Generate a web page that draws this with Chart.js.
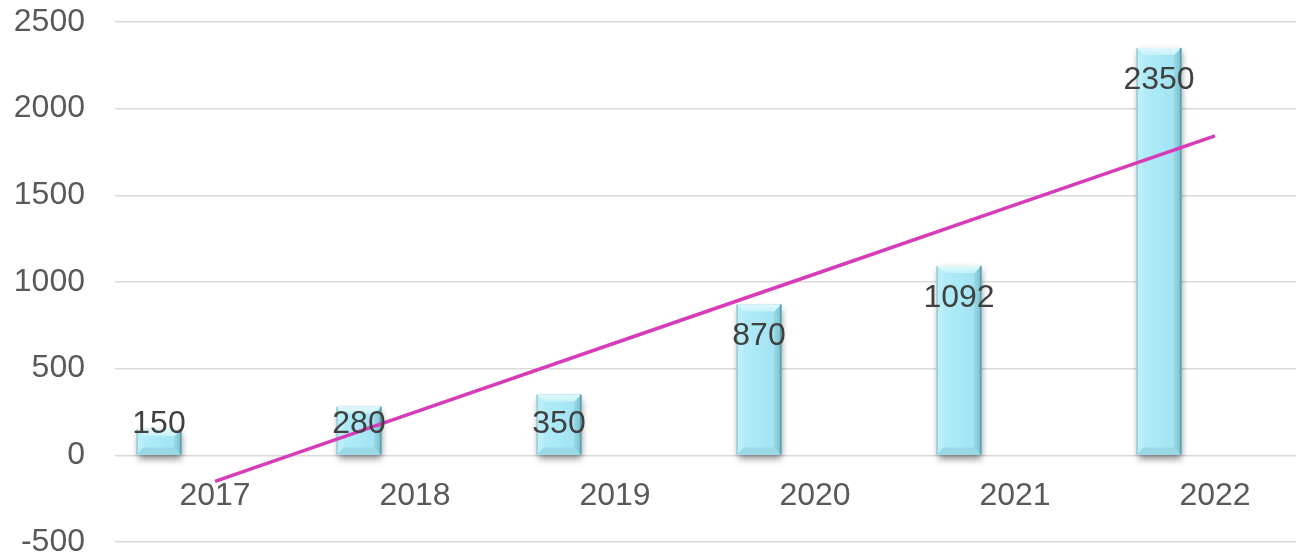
<!DOCTYPE html>
<html>
<head>
<meta charset="utf-8">
<script src="https://cdn.jsdelivr.net/npm/chart.js@4.4.1/dist/chart.umd.min.js"></script>
<style>
  html, body { margin: 0; padding: 0; background: #ffffff; }
  #wrap { width: 1296px; height: 558px; overflow: hidden; position: relative; background: #fff; }
  canvas { display: block; }
</style>
</head>
<body>
<div id="wrap"><canvas id="c" width="1320" height="558"></canvas></div>
<script>
// ---- data ----
const categories = ['2017', '2018', '2019', '2020', '2021', '2022'];
const values = [150, 280, 350, 870, 1092, 2350];
// linear trendline, values at each category
const trendValues = [-150, 249, 648, 1046, 1445, 1843];
const yTicks = [-500, 0, 500, 1000, 1500, 2000, 2500];
const emptySeries = [null, null, null, null, null, null];

const AXIS_FONT = '"Liberation Sans", Arial, sans-serif';

function drawBar(ctx, el) {
  const w = el.width;
  const l = el.x - w / 2, r = el.x + w / 2;
  const top = Math.min(el.y, el.base), base = Math.max(el.y, el.base);
  const h = base - top;
  const b = Math.min(7, h / 2, w / 2);
  ctx.save();
  // body
  const g = ctx.createLinearGradient(l, 0, r, 0);
  g.addColorStop(0, '#B4E6F1');
  g.addColorStop(0.08, '#B3ECF8');
  g.addColorStop(0.5, '#A9E8F6');
  g.addColorStop(0.88, '#A3E3F1');
  g.addColorStop(1, '#7FBFCD');
  ctx.fillStyle = g;
  ctx.fillRect(l, top, w, h);
  // top bevel
  const gt = ctx.createLinearGradient(0, top, 0, top + b);
  gt.addColorStop(0, '#E2F9FD');
  gt.addColorStop(1, '#C4F1FA');
  ctx.fillStyle = gt;
  ctx.beginPath();
  ctx.moveTo(l, top); ctx.lineTo(r, top); ctx.lineTo(r - b, top + b); ctx.lineTo(l + b, top + b);
  ctx.closePath(); ctx.fill();
  // bottom bevel
  ctx.fillStyle = '#99D9E7';
  ctx.beginPath();
  ctx.moveTo(l, base); ctx.lineTo(r, base); ctx.lineTo(r - b, base - b); ctx.lineTo(l + b, base - b);
  ctx.closePath(); ctx.fill();
  // side bevels
  ctx.fillStyle = 'rgba(190,240,250,0.6)';
  ctx.beginPath();
  ctx.moveTo(l, top); ctx.lineTo(l + b, top + b); ctx.lineTo(l + b, base - b); ctx.lineTo(l, base);
  ctx.closePath(); ctx.fill();
  ctx.fillStyle = 'rgba(120,190,205,0.45)';
  ctx.beginPath();
  ctx.moveTo(r, top); ctx.lineTo(r - b, top + b); ctx.lineTo(r - b, base - b); ctx.lineTo(r, base);
  ctx.closePath(); ctx.fill();
  // edges
  ctx.strokeStyle = '#5E9CA9';
  ctx.lineWidth = 1.5;
  ctx.beginPath(); ctx.moveTo(r - 0.75, top); ctx.lineTo(r - 0.75, base); ctx.stroke();
  ctx.strokeStyle = 'rgba(140,175,182,0.8)';
  ctx.lineWidth = 1;
  ctx.beginPath(); ctx.moveTo(l + 0.5, top); ctx.lineTo(l + 0.5, base); ctx.stroke();
  ctx.restore();
}

const barPlugin = {
  id: 'bevelBars',
  beforeDatasetDraw(chart, args) {
    if (args.index !== 0) return;
    const ctx = chart.ctx;
    const meta = chart.getDatasetMeta(0);
    ctx.save();
    meta.data.forEach(el => {
      const w = el.width;
      const top = Math.min(el.y, el.base), base = Math.max(el.y, el.base);
      ctx.shadowColor = 'rgba(0,0,0,0.45)';
      ctx.shadowBlur = 7;
      ctx.shadowOffsetX = 1;
      ctx.shadowOffsetY = 4;
      ctx.fillStyle = '#9fc9d2';
      ctx.fillRect(el.x - w / 2, top, w, base - top);
    });
    ctx.restore();
  },
  afterDatasetDraw(chart, args) {
    if (args.index !== 0) return;
    const meta = chart.getDatasetMeta(0);
    meta.data.forEach(el => drawBar(chart.ctx, el));
  },
  afterDatasetsDraw(chart) {
    const ctx = chart.ctx;
    const meta = chart.getDatasetMeta(0);
    const xs = chart.scales.x, ys = chart.scales.y;
    ctx.save();
    // data labels (inside end)
    ctx.font = '32px ' + AXIS_FONT;
    ctx.fillStyle = '#404040';
    ctx.textAlign = 'center';
    ctx.textBaseline = 'middle';
    meta.data.forEach((el, i) => {
      const top = Math.min(el.y, el.base), base = Math.max(el.y, el.base);
      const y = Math.min(top + 32, base - 30);
      ctx.fillText(String(values[i]), el.x, y);
    });
    // category labels next to the zero line
    const zeroY = ys.getPixelForValue(0);
    ctx.fillStyle = '#595959';
    categories.forEach((c, i) => {
      ctx.fillText(c, xs.getPixelForValue(i), zeroY + 41);
    });
    ctx.restore();
  }
};

const ctx = document.getElementById('c').getContext('2d');
new Chart(ctx, {
  data: {
    labels: categories,
    datasets: [
      {
        type: 'bar',
        label: 'Value',
        data: values,
        backgroundColor: '#A9E8F6',
        borderWidth: 0,
        order: 1,
        skipNull: false,
        categoryPercentage: 0.84,
        barPercentage: 0.8
      },
      {
        type: 'bar', label: '', data: emptySeries, backgroundColor: 'rgba(0,0,0,0)',
        order: 2, skipNull: false, categoryPercentage: 0.84, barPercentage: 0.8
      },
      {
        type: 'bar', label: ' ', data: emptySeries, backgroundColor: 'rgba(0,0,0,0)',
        order: 3, skipNull: false, categoryPercentage: 0.84, barPercentage: 0.8
      },
      {
        type: 'line',
        label: 'Trend',
        data: trendValues,
        borderColor: '#D83BB7',
        borderWidth: 3.5,
        pointRadius: 0,
        fill: false,
        tension: 0,
        order: 0
      }
    ]
  },
  options: {
    responsive: false,
    animation: false,
    devicePixelRatio: 1,
    layout: { padding: { top: 22, right: 5, bottom: 16, left: 0 } },
    plugins: { legend: { display: false }, tooltip: { enabled: false } },
    scales: {
      x: {
        display: false,
        offset: true,
        grid: { display: false }
      },
      y: {
        min: yTicks[0],
        max: yTicks[yTicks.length - 1],
        afterBuildTicks(scale) { scale.ticks = yTicks.map(v => ({ value: v })); },
        afterFit(scale) { scale.width = 115; scale.paddingTop = 0; scale.paddingBottom = 0; },
        border: { display: false },
        grid: { color: '#D9D9D9', lineWidth: 1.6, drawTicks: false },
        ticks: {
          padding: 30,
          color: '#595959',
          font: { family: AXIS_FONT, size: 32 },
          callback: v => String(v)
        }
      }
    }
  },
  plugins: [barPlugin]
});
</script>
</body>
</html>
